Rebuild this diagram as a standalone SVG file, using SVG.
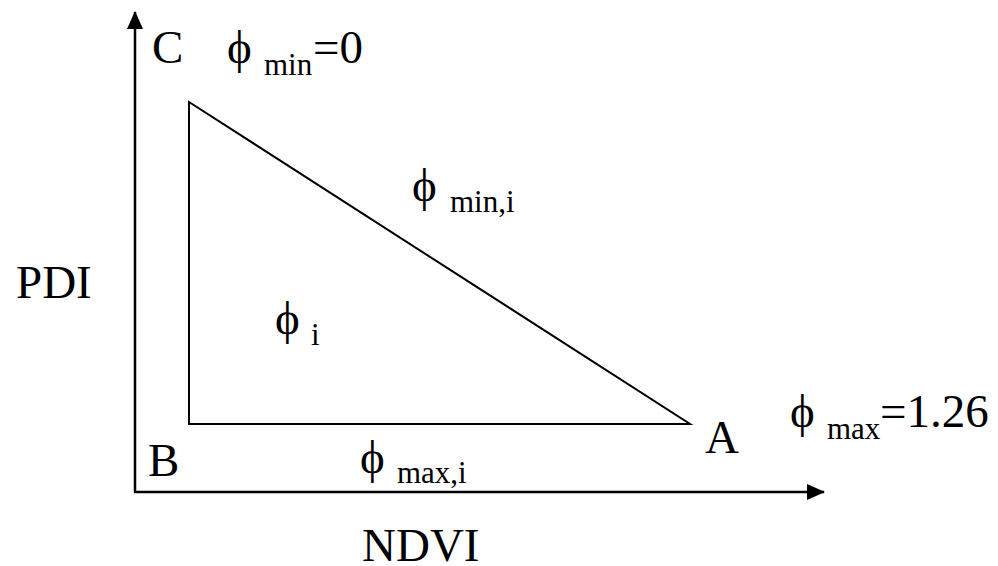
<svg xmlns="http://www.w3.org/2000/svg" width="998" height="566" viewBox="0 0 998 566">
<style>
text{fill:#000}
.t{font-size:47px}
.s{font-size:31px}
.ax{stroke:#000;stroke-width:2.5;fill:none}
.tri{stroke:#000;stroke-width:2;fill:none}
</style>
<defs>
<marker id="ah" viewBox="0 0 18 16" refX="17" refY="8" markerWidth="18" markerHeight="16" markerUnits="userSpaceOnUse" orient="auto">
<path d="M0,0 L18,8 L0,16 Z" fill="#000"/>
</marker>
</defs>
<rect width="998" height="566" fill="#fff"/>
<g id="connectors">
<path class="ax" d="M135,492 L135,12" marker-end="url(#ah)"/>
<path class="ax" d="M134,492 L824,492" marker-end="url(#ah)"/>
</g>
<g id="triangle">
<path class="tri" d="M189,102 L189,424 L690,424 Z"/>
</g>
<g id="labels" font-family="Liberation Serif, serif">
<text class="t" x="152" y="63">C</text>
<text class="t" x="227" y="63">ϕ</text>
<text class="s" x="264" y="75">min</text>
<text class="t" x="313" y="63">=0</text>
<text class="t" x="412" y="201">ϕ</text>
<text class="s" x="450" y="212">min,i</text>
<text class="t" x="275" y="334">ϕ</text>
<text class="s" x="311" y="345">i</text>
<text class="t" x="16" y="298">PDI</text>
<text class="t" x="148" y="476">B</text>
<text class="t" x="360" y="473">ϕ</text>
<text class="s" x="397" y="483">max,i</text>
<text class="t" x="705" y="453">A</text>
<text class="t" x="790" y="427">ϕ</text>
<text class="s" x="827" y="439">max</text>
<text class="t" x="880" y="427">=1.26</text>
<text class="t" x="362" y="561">NDVI</text>
</g>
</svg>
